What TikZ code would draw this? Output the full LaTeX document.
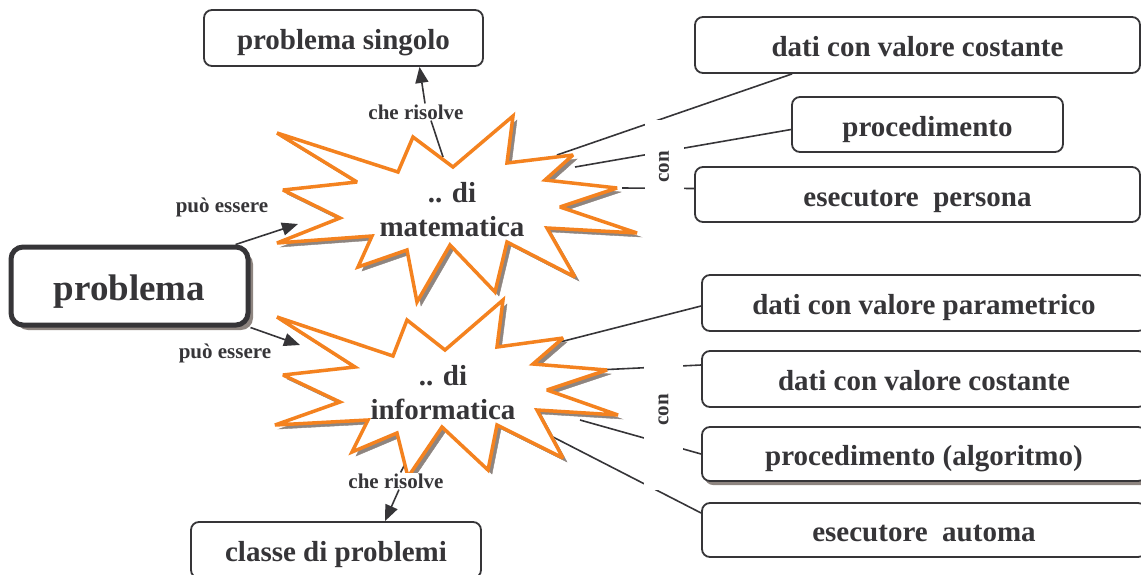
\documentclass[tikz,border=0pt]{standalone}
\usepackage{fontspec}
\setmainfont{Liberation Serif}
\usetikzlibrary{arrows.meta,shadows}

\definecolor{inkgray}{HTML}{363538}
\definecolor{burstorange}{HTML}{F4821F}
\definecolor{shadowgray}{HTML}{8E8580}

\pgfdeclarelayer{links}
\pgfdeclarelayer{bursts}
\pgfsetlayers{links,bursts,main}

\tikzset{
    concept/.style={draw=inkgray, line width=1.8pt, rounded corners=8pt, fill=white, text=inkgray,
        font=\bfseries\fontsize{29}{33}\selectfont, minimum height=56pt, inner sep=0pt,
        text height=23pt, text depth=0pt},
    bursttext/.style={text=inkgray, align=center, font=\bfseries\fontsize{29}{34}\selectfont},
    linkword/.style={text=inkgray, fill=white, inner sep=1pt, font=\bfseries\fontsize{21}{23}\selectfont},
    link/.style={draw=inkgray, line width=1.6pt},
    arr/.style={link, -{Triangle[length=16pt,width=13pt]}},
    burst/.style={draw=burstorange, line width=3.5pt, fill=white, miter limit=3,
        preaction={draw=shadowgray, fill=shadowgray, transform canvas={shift={(4pt,-4pt)}}}},
}

\begin{document}
\begin{tikzpicture}[x=1pt, y=-1pt]
    \useasboundingbox (0,0) rectangle (1141,574);

    % concetti
    \node[concept, line width=5pt, rounded corners=12pt, minimum width=237pt, minimum height=78pt,
        font=\bfseries\fontsize{37}{40}\selectfont, text height=28pt,
        drop shadow={shadow xshift=5pt, shadow yshift=-5pt, fill=shadowgray, opacity=1}]
        (problema) at (129.5,286) {problema};
    \node[concept, minimum width=279pt] (singolo) at (343.5,38) {problema singolo};
    \node[concept, minimum width=290pt] (classe) at (336,550) {classe di problemi};
    \node[concept, minimum width=445pt] (matdati) at (917.5,45) {dati con valore costante};
    \node[concept, minimum width=271pt, minimum height=55pt] (matproc) at (927.5,124.5) {procedimento};
    \node[concept, minimum width=445pt, minimum height=55pt] (matesec) at (917.5,194.5) {esecutore\ \ persona};
    \node[concept, minimum width=444pt] (infopar) at (924,303) {dati con valore parametrico};
    \node[concept, minimum width=444pt] (infodati) at (924,379) {dati con valore costante};
    \node[concept, minimum width=444pt, minimum height=54pt,
        drop shadow={shadow xshift=3pt, shadow yshift=-4pt, fill=shadowgray, opacity=1}]
        (infoproc) at (924,454) {procedimento (algoritmo)};
    \node[concept, minimum width=444pt, minimum height=54pt] (infoesec) at (924,530) {esecutore\ \ automa};

    % esplosioni
    \begin{pgfonlayer}{bursts}
    \draw[burst] (277,133) -- (398,172) -- (413,137) -- (453,167) -- (513,116) -- (507,163)
        -- (573,155) -- (545,180) -- (617,188) -- (560,207) -- (637,233) -- (547,228)
        -- (575,277) -- (507,242) -- (495,292) -- (450,245) -- (417,302) -- (407,250)
        -- (358,267) -- (372,236) -- (277,243) -- (340,218) -- (283,190) -- (357,182) -- cycle;
    \draw[burst] (277,317) -- (393,356) -- (407,320) -- (445,350) -- (503,300) -- (497,347)
        -- (563,338) -- (533,364) -- (607,370) -- (547,390) -- (618,415) -- (537,410)
        -- (563,458) -- (497,425) -- (488,470) -- (442,427) -- (408,477) -- (397,433)
        -- (352,452) -- (368,420) -- (275,425) -- (340,402) -- (283,375) -- (355,367) -- cycle;
    \end{pgfonlayer}
    \node[bursttext] (mat) at (452,210) {.. di\\matematica};
    \node[bursttext] (info) at (443,393) {.. di\\informatica};

    % parole legame
    \node[linkword] (matessere) at (222,207) {può essere};
    \node[linkword] (infoessere) at (225,353) {può essere};
    \node[linkword] (matrisolve) at (416,112) {che risolve};
    \node[linkword] (inforisolve) at (396,481) {che risolve};

    \coordinate (matin) at (298,224);
    \coordinate (infoin) at (300,345);
    \coordinate (mattop) at (443,157);
    \coordinate (mat-a) at (557,155);
    \coordinate (mat-b) at (575,167);
    \coordinate (mat-c) at (622,188);
    \coordinate (info-a) at (560,342);
    \coordinate (info-b) at (597,370);
    \coordinate (info-c) at (580,420);
    \coordinate (info-d) at (553,437);

    \begin{pgfonlayer}{links}
    \draw[arr] ([xshift=-15pt]problema.north east) -- (matin);
    \draw[arr] (problema.south east) -- (infoin);
    \draw[link] (mattop) -- ([xshift=15pt]matrisolve.south);
    \draw[arr] ([xshift=9pt]matrisolve.north) -- ([xshift=76pt]singolo.south);
    \draw[link] (info) -- (inforisolve);
    \draw[arr] ([xshift=3pt]inforisolve.south) -- ([xshift=49pt]classe.north);
    \draw[link] (mat-a) -- ([xshift=98pt]matdati.south west);
    \draw[link] (mat-b) -- ([yshift=-5pt]matproc.west);
    \draw[link] (mat-c) -- ([yshift=6pt]matesec.west);
    \draw[link] (info-a) -- ([yshift=-3pt]infopar.west);
    \draw[link] (info-b) -- ([yshift=14pt]infodati.west);
    \draw[link] (info-c) -- (infoproc.west);
    \draw[link] (info-d) -- ([yshift=17pt]infoesec.west);
    \end{pgfonlayer}
    \node[linkword, rotate=90, minimum width=94pt, minimum height=39pt] (matcon) at (664,167) {con};
    \node[linkword, rotate=90, minimum width=160pt, minimum height=39pt] (infocon) at (663.5,410) {con};
\end{tikzpicture}
\end{document}
